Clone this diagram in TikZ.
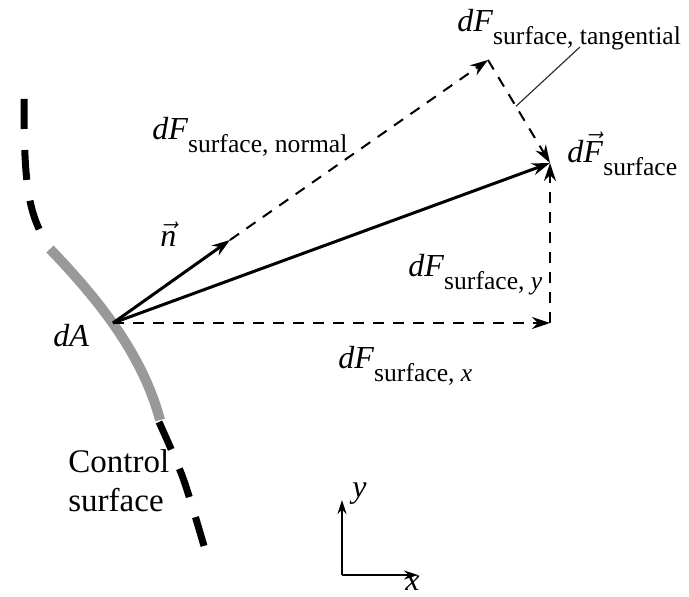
\documentclass[tikz,border=0pt]{standalone}
\usepackage{fontspec}
\setmainfont{Liberation Serif}
\usetikzlibrary{arrows.meta, calc}
\newcommand{\dFsub}[1]{\textit{dF}\raisebox{-6.5pt}{\fontsize{12.8}{14}\selectfont #1}}
\newcommand{\dFvec}{\textit{d}$\vec{\mbox{\textit{F}}}$\raisebox{-6.5pt}{\fontsize{12.8}{14}\selectfont surface}}

\begin{document}
\begin{tikzpicture}[
  x=0.5pt, y=-0.5pt,
  vec/.style    = {-{Stealth[length=9pt, width=6pt]}, line width=1.5pt, black},
  comp/.style   = {-{Stealth[length=9pt, width=6pt]}, line width=1pt, black,
                   dash pattern=on 5.5pt off 4.5pt},
  axis/.style   = {-{Stealth[length=7pt, width=4.5pt]}, line width=1pt, black},
  leader/.style = {line width=0.6pt, black!80},
  csurf/.style  = {line width=3.5pt, black, dash pattern=on 15pt off 10.5pt},
  patch/.style  = {line width=5pt, black!40},
  lbl/.style    = {font=\fontsize{16}{18}\selectfont, inner sep=0pt, anchor=base west},
]
\useasboundingbox (0,0) rectangle (689,597);

\draw[csurf] (24,99) .. controls (24,175) and (27,205) .. (41,233);
\draw[patch] (50,249) .. controls (95,296) and (142,352) .. (160,420);
\draw[csurf] plot[smooth] coordinates {(159,422) (183,478) (204,546)};

\coordinate (O)    at (113,323);
\coordinate (Ntip) at (230,240);
\coordinate (Nend) at (488,60);
\coordinate (R)    at (550,163);
\coordinate (C)    at (550,323);
\coordinate (Lt)   at ($(Nend)!0.45!(R)$);
\coordinate (Lh)   at (580,47);

\foreach \a/\b in {Ntip/Nend, Nend/R, O/C, C/R}
  \draw[comp] (\a) -- (\b);
\foreach \a/\b in {O/Ntip, O/R}
  \draw[vec] (\a) -- (\b);
\draw[leader] (Lt) -- (Lh);

\node[lbl] (nrm) at (152,140) {\dFsub{surface, normal}};
\node[lbl] (tng) at (457,32)  {\dFsub{surface, tangential}};
\node[lbl] (res) at (567,163) {\dFvec};
\node[lbl] (fy)  at (408,277) {\dFsub{surface, \textit{y}}};
\node[lbl] (fx)  at (338,369) {\dFsub{surface, \textit{x}}};
\node[lbl] (da)  at (53,347)  {\textit{dA}};
\node[lbl] (nv)  at (160,247) {$\vec{\mbox{\textit{n}}}$};
\node[lbl, font=\fontsize{16.5}{19.5}\selectfont, align=left] (cs) at (68,511) {Control\\surface};

\coordinate (A0) at (342,575);
\coordinate (Ay) at (342,500);
\coordinate (Ax) at (418,575);
\foreach \t in {Ay, Ax}
  \draw[axis] (A0) -- (\t);
\node[lbl] (ly) at (352,497) {\textit{y}};
\node[lbl] (lx) at (405,590) {\textit{x}};
\end{tikzpicture}
\end{document}
